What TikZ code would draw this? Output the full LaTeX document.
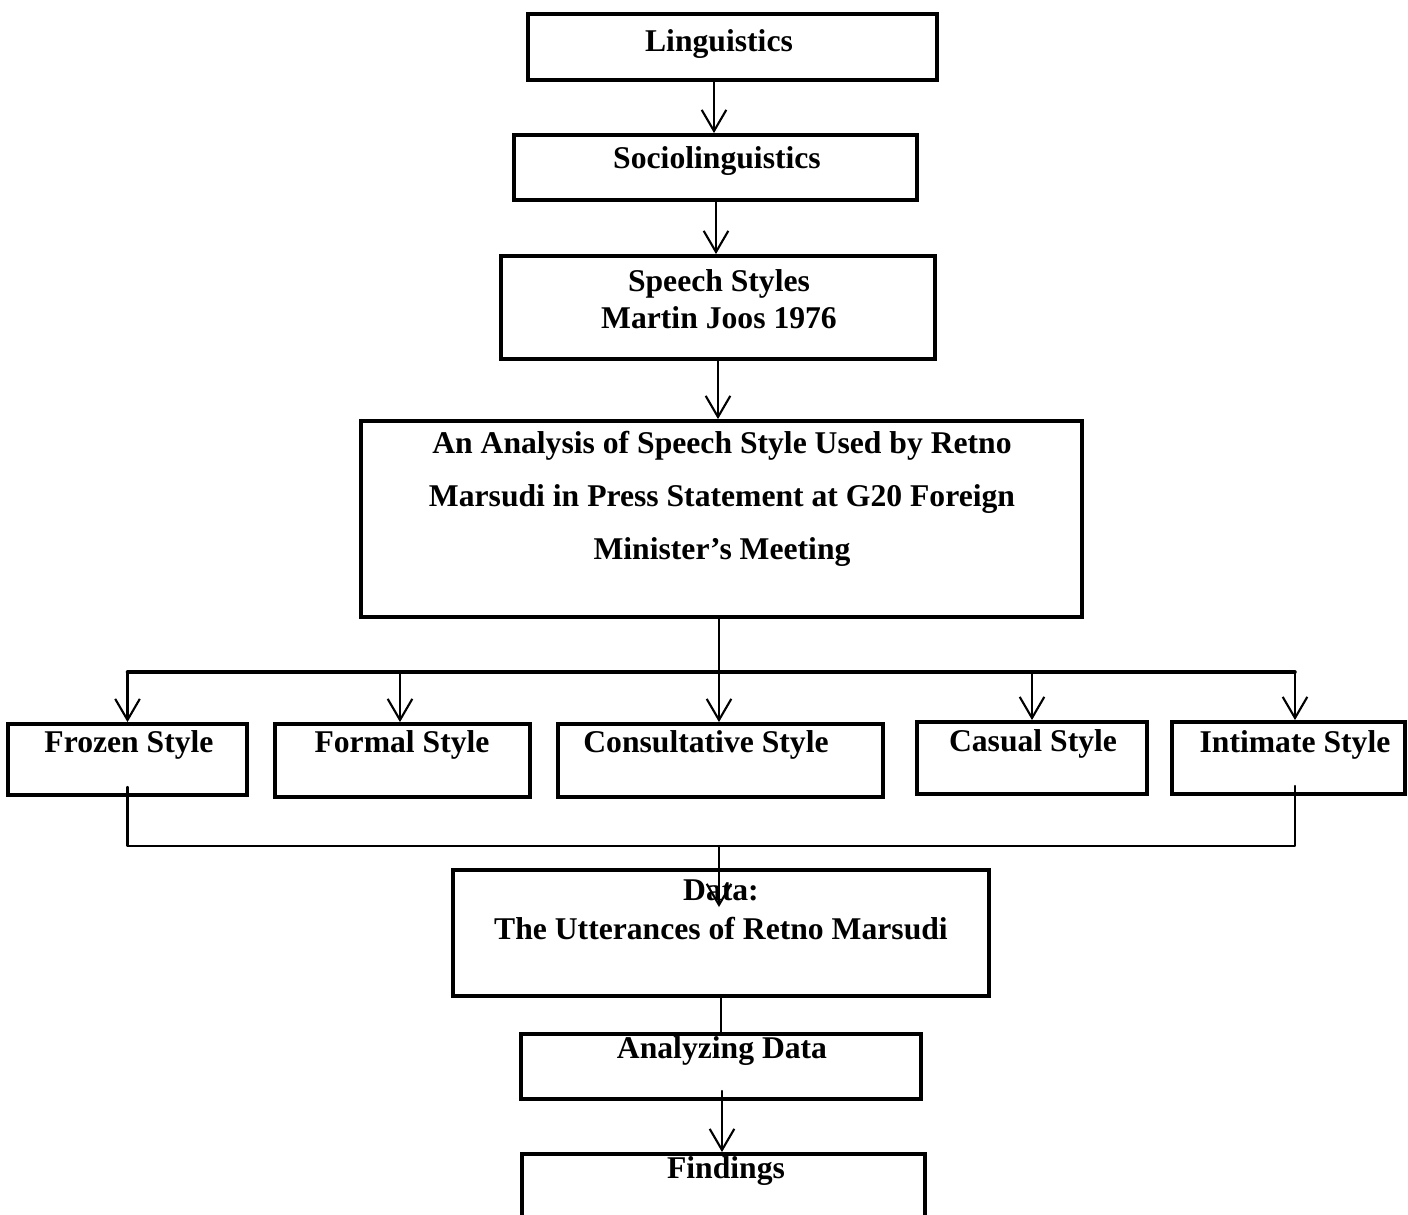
\documentclass[tikz,border=0pt]{standalone}
\usepackage{fontspec}
\setmainfont{Liberation Serif}
\usetikzlibrary{arrows.meta, calc, fit}

\begin{document}
\begin{tikzpicture}[x=0.01cm, y=-0.01cm, >={Straight Barb[length=6pt,width=7pt]}, line cap=round, line join=round,
    box/.style={draw, line width=1.1pt, line join=miter, inner sep=0pt},
    lbl/.style={font=\bfseries\fontsize{9}{11}\selectfont, align=center, inner sep=0pt},
    link/.style={line width=0.6pt}]
    \clip (0,0) rectangle (1408,1214);

    % boxes
    \node[box, fit={(528,14) (937,80)}]     (ling)   {};
    \node[box, fit={(514,135) (917,200)}]   (socio)  {};
    \node[box, fit={(501,256) (935,359)}]   (speech) {};
    \node[box, fit={(361,421) (1082,617)}]  (ana)    {};
    \node[box, fit={(8,724) (247,795)}]     (frozen) {};
    \node[box, fit={(275,724) (530,797)}]   (formal) {};
    \node[box, fit={(558,724) (883,797)}]   (consult){};
    \node[box, fit={(917,722) (1147,794)}]  (casual) {};
    \node[box, fit={(1172,722) (1405,794)}] (intim)  {};
    \node[box, fit={(453,870) (989,996)}]   (data)   {};
    \node[box, fit={(521,1034) (921,1099)}] (analyz) {};
    \node[box, fit={(522,1154) (925,1260)}] (find)   {};

    % texts
    \node[lbl] (lingT)    at (719,44)  {Linguistics};
    \node[lbl] (socioT)   at (717,161) {Sociolinguistics};
    \node[lbl, font=\bfseries\fontsize{9}{10.5}\selectfont] (speechT) at (719,299) {Speech Styles\\Martin Joos 1976};
    \node[lbl, font=\bfseries\fontsize{9}{15}\selectfont] (anaT) at (722,499)
        {An Analysis of Speech Style Used by Retno\\Marsudi in Press Statement at G20 Foreign\\Minister’s Meeting};
    \node[lbl] (frozenT)  at (129,745)  {Frozen Style};
    \node[lbl] (formalT)  at (402,745)  {Formal Style};
    \node[lbl] (consultT) at (706,745)  {Consultative Style};
    \node[lbl] (casualT)  at (1033,744) {Casual Style};
    \node[lbl] (intimT)   at (1295,745) {Intimate Style};
    \node[lbl] (dataT)    at (721,910)  {Data:\\The Utterances of Retno Marsudi};
    \node[lbl] (analyzT)  at (722,1051) {Analyzing Data};
    \node[lbl] (findT)    at (726,1171) {Findings};

    % connector points
    \coordinate (c1) at (714,0);
    \coordinate (c2) at (716,0);
    \coordinate (c3) at (718,0);
    \coordinate (c4) at (721,0);
    \coordinate (c5) at (722,0);
    \coordinate (cF) at (400,0);
    \coordinate (cI) at (1295,0);
    \coordinate (split) at (719,672);
    \coordinate (merge) at (719,846);
    \coordinate (dataTip) at (719,907);

    %--- top chain
    \draw[link,->] (ling.south -| c1) -- (socio.north -| c1);
    \draw[link,->] (socio.south -| c2) -- (speech.north -| c2);
    \draw[link,->] (speech.south -| c3) -- (ana.north -| c3);

    %--- branch to the five styles
    \draw[link] (ana.south -| split) -- (split);
    \draw[line width=1pt] (split -| frozen.north) -- (split -| cI);
    \draw[link,->] (split -| frozen.north) -- (frozen.north);
    \draw[link,->] (split -| cF) -- (formal.north -| cF);
    \draw[link,->] (split) -- (consult.north -| split);
    \draw[link,->] (split -| casual.north) -- (casual.north);
    \draw[link,->] (split -| cI) -- (intim.north -| cI);

    %--- back to the data
    \draw[link] ([yshift=0.1cm]frozen.south) -- (frozen.south |- merge) -- (merge -| cI) -- ([yshift=0.1cm]intim.south -| cI);
    \draw[link,->] (merge) -- (dataTip);
    \draw[link] (data.south -| c4) -- (analyz.north -| c4);
    \draw[link,->] ([yshift=0.1cm]analyz.south -| c5) -- (find.north -| c5);
\end{tikzpicture}
\end{document}
